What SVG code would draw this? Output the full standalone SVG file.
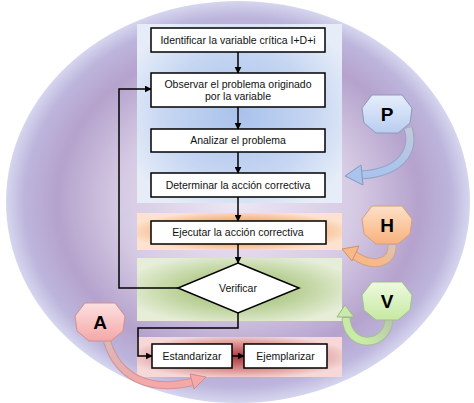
<svg xmlns="http://www.w3.org/2000/svg" width="474" height="403" viewBox="0 0 474 403">
<defs>
<radialGradient id="gBg" cx="50%" cy="50%" r="50%">
<stop offset="0" stop-color="#ece6f3"/>
<stop offset="0.5" stop-color="#d6cbe4"/>
<stop offset="0.78" stop-color="#b5a2cd"/>
<stop offset="0.92" stop-color="#bdb5dc"/>
<stop offset="1" stop-color="#d6d6ef"/>
</radialGradient>
<radialGradient id="gBlue" cx="50%" cy="50%" r="60%">
<stop offset="0" stop-color="#a9c2ec"/>
<stop offset="0.6" stop-color="#c6d6f2"/>
<stop offset="1" stop-color="#e6edf8"/>
</radialGradient>
<radialGradient id="gOrange" cx="50%" cy="50%" r="55%">
<stop offset="0" stop-color="#ea7a2c"/>
<stop offset="0.55" stop-color="#f4ad78"/>
<stop offset="1" stop-color="#fde3cf"/>
</radialGradient>
<radialGradient id="gGreen" cx="50%" cy="50%" r="58%">
<stop offset="0" stop-color="#93b468"/>
<stop offset="0.55" stop-color="#bfd49e"/>
<stop offset="1" stop-color="#e6eed8"/>
</radialGradient>
<radialGradient id="gRed" cx="50%" cy="50%" r="55%">
<stop offset="0" stop-color="#a8383c"/>
<stop offset="0.55" stop-color="#d88a8a"/>
<stop offset="1" stop-color="#f6d8d8"/>
</radialGradient>
<linearGradient id="hP" x1="0" y1="0" x2="0" y2="1"><stop offset="0" stop-color="#e6eefc"/><stop offset="1" stop-color="#b9cdf0"/></linearGradient>
<linearGradient id="hH" x1="0" y1="0" x2="0" y2="1"><stop offset="0" stop-color="#fde0c8"/><stop offset="1" stop-color="#f8b27e"/></linearGradient>
<linearGradient id="hV" x1="0" y1="0" x2="0" y2="1"><stop offset="0" stop-color="#eef9e0"/><stop offset="1" stop-color="#c6e9a2"/></linearGradient>
<linearGradient id="hA" x1="0" y1="0" x2="0" y2="1"><stop offset="0" stop-color="#fde0e0"/><stop offset="1" stop-color="#f4a8a8"/></linearGradient>
<linearGradient id="sP" gradientUnits="userSpaceOnUse" x1="408" y1="128" x2="395" y2="172"><stop offset="0" stop-color="#c4c8dc"/><stop offset="1" stop-color="#aac4ee"/></linearGradient>
<linearGradient id="sH" gradientUnits="userSpaceOnUse" x1="392" y1="245" x2="380" y2="264"><stop offset="0" stop-color="#dcc4b4"/><stop offset="1" stop-color="#f8b888"/></linearGradient>
<linearGradient id="sV" gradientUnits="userSpaceOnUse" x1="389" y1="320" x2="365" y2="343"><stop offset="0" stop-color="#b8c8a8"/><stop offset="1" stop-color="#c8eca8"/></linearGradient>
<linearGradient id="sA" gradientUnits="userSpaceOnUse" x1="107" y1="341" x2="135" y2="385"><stop offset="0" stop-color="#d8b8bc"/><stop offset="1" stop-color="#f4a8a8"/></linearGradient>
<polygon id="hep" points="-15,-19 15,-19 25,-6 23,9 11,19 -11,19 -23,9 -25,-6"/>
<marker id="ah" viewBox="0 0 10 10" refX="9" refY="5" markerWidth="7" markerHeight="7" markerUnits="userSpaceOnUse" orient="auto">
<path d="M0,0 L10,5 L0,10 Z" fill="#000"/>
</marker>
</defs>
<style>
.box{fill:#fff;stroke:#000;stroke-width:1.5}
.t{font-family:"Liberation Sans",Arial,sans-serif;font-size:10.5px;fill:#111;text-anchor:middle}
.L{font-family:"Liberation Sans",Arial,sans-serif;font-size:19px;font-weight:bold;fill:#000;text-anchor:middle}
.c{fill:none;stroke:#000;stroke-width:1.5}
.ca{marker-end:url(#ah)}
</style>
<rect width="474" height="403" fill="#fff"/>
<ellipse cx="238" cy="202" rx="232" ry="201" fill="url(#gBg)"/>
<g id="bands">
<rect x="137" y="24" width="205" height="179" fill="url(#gBlue)"/>
<rect x="137" y="213" width="205" height="37" fill="url(#gOrange)"/>
<rect x="137" y="258" width="205" height="63" fill="url(#gGreen)"/>
<rect x="137" y="337" width="205" height="40" fill="url(#gRed)"/>
</g>
<g id="connectors">
<line class="c ca" x1="238" y1="52" x2="238" y2="73"/>
<line class="c ca" x1="238" y1="107" x2="238" y2="129"/>
<line class="c ca" x1="238" y1="152" x2="238" y2="173"/>
<line class="c ca" x1="238" y1="197" x2="238" y2="221"/>
<line class="c ca" x1="238" y1="244" x2="238" y2="263"/>
<polyline class="c ca" points="178,288 119,288 119,89 151,89"/>
<polyline class="c ca" points="238,313 238,328 138,328 138,356 152,356"/>
<line class="c ca" x1="232" y1="356" x2="244" y2="356"/>
</g>
<g id="n1"><rect class="box" x="151" y="28" width="174" height="24"/><text class="t" x="238" y="44">Identificar la variable crítica I+D+i</text></g>
<g id="n2"><rect class="box" x="151" y="73" width="174" height="34"/><text class="t" x="238" y="87.5">Observar el problema originado</text><text class="t" x="238" y="100">por la variable</text></g>
<g id="n3"><rect class="box" x="151" y="129" width="174" height="23"/><text class="t" x="238" y="144">Analizar  el problema</text></g>
<g id="n4"><rect class="box" x="151" y="173" width="174" height="24"/><text class="t" x="238" y="189">Determinar la acción correctiva</text></g>
<g id="n5"><rect class="box" x="151" y="221" width="175" height="23"/><text class="t" x="238" y="236">Ejecutar la acción correctiva</text></g>
<g id="n6"><polygon class="box" points="238,263 299,288 238,313 178,288"/><text class="t" x="238" y="292">Verificar</text></g>
<g id="n7"><rect class="box" x="152" y="344" width="80" height="24"/><text class="t" x="192" y="360">Estandarizar</text></g>
<g id="n8"><rect class="box" x="244" y="344" width="83" height="24"/><text class="t" x="285.5" y="360">Ejemplarizar</text></g>
<g id="arrowP">
<path d="M408,128 C415,150 402,173 360,175" fill="none" stroke="#97a5c2" stroke-width="9"/>
<path d="M408,128 C415,150 402,173 360,175" fill="none" stroke="url(#sP)" stroke-width="7"/>
<polygon points="345,176 361,165 363,185" fill="#aac4ee" stroke="#8797b8" stroke-width="1"/>
</g>
<g id="arrowH">
<path d="M392,245 C393,264 372,268 354,255" fill="none" stroke="#d0a488" stroke-width="9"/>
<path d="M392,245 C393,264 372,268 354,255" fill="none" stroke="url(#sH)" stroke-width="7"/>
<polygon points="342,249 359,246 352,261" fill="#f8b888" stroke="#d09070" stroke-width="1"/>
</g>
<g id="arrowV">
<path d="M389,320 C387,347 348,350 346,318" fill="none" stroke="#a8bc94" stroke-width="9"/>
<path d="M389,320 C387,347 348,350 346,318" fill="none" stroke="url(#sV)" stroke-width="7"/>
<polygon points="345,305 337,317 354,317" fill="#c8eca8" stroke="#98b880" stroke-width="1"/>
</g>
<g id="arrowA">
<path d="M107,341 C118,378 150,392 192,382" fill="none" stroke="#d49494" stroke-width="8"/>
<path d="M107,341 C118,378 150,392 192,382" fill="none" stroke="url(#sA)" stroke-width="6"/>
<polygon points="206,377 190,374 194,389" fill="#f4a8a8" stroke="#d08a8a" stroke-width="1"/>
</g>
<g id="P"><use href="#hep" transform="translate(387,114)" fill="url(#hP)" stroke="#8c9cb8" stroke-width="1"/><text class="L" x="387" y="121">P</text></g>
<g id="H"><use href="#hep" transform="translate(387,225)" fill="url(#hH)" stroke="#d0a080" stroke-width="1"/><text class="L" x="387" y="232">H</text></g>
<g id="V"><use href="#hep" transform="translate(387,301)" fill="url(#hV)" stroke="#a0c088" stroke-width="1"/><text class="L" x="387" y="308">V</text></g>
<g id="A"><use href="#hep" transform="translate(100,322)" fill="url(#hA)" stroke="#d09090" stroke-width="1"/><text class="L" x="100" y="329">A</text></g>
</svg>
